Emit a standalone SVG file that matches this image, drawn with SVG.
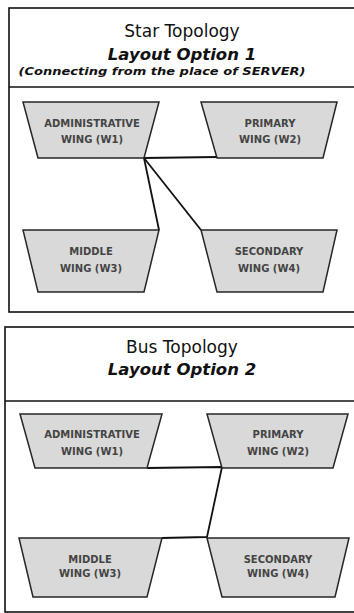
<svg xmlns="http://www.w3.org/2000/svg" width="354" height="613" viewBox="0 0 354 613">
  <style>
    .panel { fill: #ffffff; stroke: #111111; stroke-width: 1.6; }
    .divider { stroke: #111111; stroke-width: 1.6; }
    .wing { fill: #d9d9d9; stroke: #262626; stroke-width: 1.5; stroke-linejoin: miter; }
    .label { font-family: "DejaVu Sans", sans-serif; font-size: 10px; font-weight: bold; fill: #444444; text-anchor: middle; }
    .title { font-family: "DejaVu Sans", sans-serif; font-size: 17px; fill: #111111; text-anchor: middle; }
    .option { font-family: "DejaVu Sans", sans-serif; font-size: 16.5px; font-weight: bold; font-style: italic; fill: #111111; text-anchor: middle; }
    .note { font-family: "DejaVu Sans", sans-serif; font-size: 10px; font-weight: bold; font-style: italic; fill: #111111; text-anchor: middle; }
    .link { fill: none; stroke: #111111; stroke-width: 1.8; stroke-linejoin: round; }
  </style>

  <!-- Star topology panel -->
  <g id="star-panel">
    <rect class="panel" x="9" y="8" width="360" height="304"/>
    <line class="divider" x1="9" y1="87" x2="360" y2="87"/>
    <text class="title" x="182" y="37">Star Topology</text>
    <text class="option" x="182" y="60">Layout Option 1</text>
    <text class="note" x="162" y="75" textLength="287" lengthAdjust="spacingAndGlyphs">(Connecting from the place of SERVER)</text>
  </g>

  <g id="star-connectors">
    <polyline class="link" points="144,158 217,157"/>
    <polyline class="link" points="144,158 159,230"/>
    <polyline class="link" points="144,158 201,230"/>
  </g>

  <g id="star-w1">
    <polygon class="wing" points="23,102 159,102 144,158 38,158"/>
    <text class="label" x="92" y="127">ADMINISTRATIVE</text>
    <text class="label" x="92" y="143">WING (W1)</text>
  </g>
  <g id="star-w2">
    <polygon class="wing" points="201,102 337,102 323,158 217,158"/>
    <text class="label" x="270" y="127">PRIMARY</text>
    <text class="label" x="270" y="143">WING (W2)</text>
  </g>
  <g id="star-w3">
    <polygon class="wing" points="23,230 159,230 144,292 38,292"/>
    <text class="label" x="91" y="255">MIDDLE</text>
    <text class="label" x="91" y="272">WING (W3)</text>
  </g>
  <g id="star-w4">
    <polygon class="wing" points="201,230 337,230 323,292 217,292"/>
    <text class="label" x="269" y="255">SECONDARY</text>
    <text class="label" x="269" y="272">WING (W4)</text>
  </g>

  <!-- Bus topology panel -->
  <g id="bus-panel">
    <rect class="panel" x="5" y="327" width="360" height="285"/>
    <line class="divider" x1="5" y1="401" x2="360" y2="401"/>
    <text class="title" x="182" y="353">Bus Topology</text>
    <text class="option" x="182" y="375">Layout Option 2</text>
  </g>

  <g id="bus-connectors">
    <polyline class="link" points="147,468 222,467 207,537 162,538"/>
  </g>

  <g id="bus-w1">
    <polygon class="wing" points="20,414 162,414 147,468 35,468"/>
    <text class="label" x="92" y="438">ADMINISTRATIVE</text>
    <text class="label" x="92" y="455">WING (W1)</text>
  </g>
  <g id="bus-w2">
    <polygon class="wing" points="207,414 348,414 333,468 222,468"/>
    <text class="label" x="278" y="438">PRIMARY</text>
    <text class="label" x="278" y="455">WING (W2)</text>
  </g>
  <g id="bus-w3">
    <polygon class="wing" points="19,538 162,538 147,597 33,597"/>
    <text class="label" x="90" y="563">MIDDLE</text>
    <text class="label" x="90" y="577">WING (W3)</text>
  </g>
  <g id="bus-w4">
    <polygon class="wing" points="207,538 349,538 335,597 222,597"/>
    <text class="label" x="278" y="563">SECONDARY</text>
    <text class="label" x="278" y="577">WING (W4)</text>
  </g>
</svg>
